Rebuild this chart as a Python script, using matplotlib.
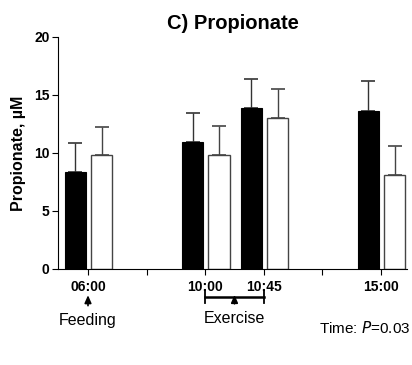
import numpy as np
import matplotlib

matplotlib.use("Agg")
import matplotlib.pyplot as plt

plt.rcParams["font.family"] = ["Liberation Sans", "DejaVu Sans"]

# sampling times and group means / SEM (upper error only)
times = ["06:00", "10:00", "10:45", "15:00"]
positions = [0, 2, 3, 5]
mean_black = [8.35, 10.95, 13.9, 13.65]
sem_black = [2.48, 2.5, 2.5, 2.52]
mean_white = [9.8, 9.8, 13.0, 8.1]
sem_white = [2.47, 2.49, 2.48, 2.52]

fig = plt.figure(figsize=(4.12, 3.65), dpi=100)
ax = fig.add_axes([58 / 412, 96 / 365, 349 / 412, 232 / 365])

x = np.array(positions, dtype=float)
w = 0.36
ax.bar(x - 0.215, mean_black, w, color="black", edgecolor="black", linewidth=0.8, zorder=2)
ax.bar(x + 0.235, mean_white, w, color="white", edgecolor="#444444", linewidth=1.0, zorder=2)
ax.errorbar(x - 0.215, mean_black, yerr=[np.zeros(4), sem_black], fmt="none",
            ecolor="#333333", elinewidth=1.0, capsize=5, capthick=1.2, zorder=1)
ax.errorbar(x + 0.235, mean_white, yerr=[np.zeros(4), sem_white], fmt="none",
            ecolor="#444444", elinewidth=1.0, capsize=5, capthick=1.2, zorder=1)

ax.set_xlim(-0.512, 5.444)
ax.set_ylim(0, 20)
ax.set_yticks([0, 5, 10, 15, 20])
ax.set_xticks(range(6))
ax.set_xticklabels(["06:00", "", "10:00", "10:45", "", "15:00"])
for lab in ax.get_xticklabels() + ax.get_yticklabels():
    lab.set_fontweight("bold")
    lab.set_fontsize(10)
ax.tick_params(axis="both", direction="out", length=4, width=0.8, pad=2)
ax.tick_params(axis="x", pad=4)
ax.spines["top"].set_visible(False)
ax.spines["right"].set_visible(False)
ax.spines["left"].set_linewidth(0.8)
ax.spines["bottom"].set_linewidth(0.8)

ax.set_ylabel("Propionate, µM", fontsize=11.5, fontweight="bold", labelpad=6)
ax.set_title("C) Propionate", fontsize=14.5, fontweight="bold", pad=6)

arrow = dict(arrowstyle="-|>,head_length=0.45,head_width=0.2", color="black", lw=1.2,
             shrinkA=0, shrinkB=0)

# feeding arrow under 06:00
trans = ax.get_xaxis_transform()
ax.annotate("", xy=(0, -0.113), xytext=(0, -0.158), xycoords=trans, arrowprops=arrow)
ax.text(0, -0.22, "Feeding", transform=trans, ha="center", va="center", fontsize=11.5)

# exercise bracket 10:00 - 10:45
ax.plot([2, 3], [-0.119, -0.119], transform=trans, color="black", lw=1.8, clip_on=False)
for xe in (2, 3):
    ax.plot([xe, xe], [-0.09, -0.147], transform=trans, color="black", lw=1.3, clip_on=False)
ax.annotate("", xy=(2.5, -0.112), xytext=(2.5, -0.15), xycoords=trans, arrowprops=arrow)
ax.text(2.5, -0.212, "Exercise", transform=trans, ha="center", va="center", fontsize=11.5)

fig.text(410 / 412, 1 - 328 / 365, "Time: $\\mathit{P}$=0.03", ha="right", va="center", fontsize=11)

fig.savefig("out.png", dpi=100)
